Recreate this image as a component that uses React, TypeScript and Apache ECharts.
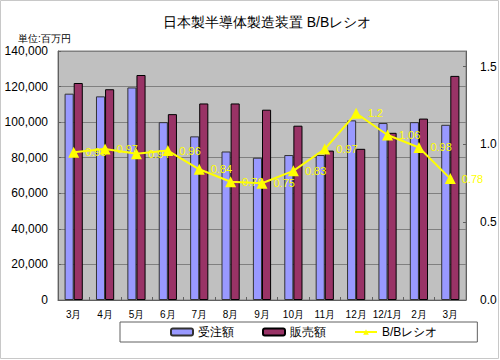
import React, { useEffect, useRef } from "react";
import * as echarts from "echarts";

const categories = ["3月", "4月", "5月", "6月", "7月", "8月", "9月", "10月", "11月", "12月", "12/1月", "2月", "3月"];
const orders = [116000, 114500, 119500, 100000, 92000, 83500, 80000, 81500, 81500, 101000, 99500, 100000, 98500];
const sales = [122000, 118500, 126500, 104500, 110500, 110500, 107000, 98000, 84000, 85000, 94000, 102000, 126000];
const ratio = [0.95, 0.97, 0.94, 0.96, 0.84, 0.76, 0.75, 0.83, 0.97, 1.2, 1.06, 0.98, 0.78];
const leftTicks = { min: 0, max: 140000, interval: 20000 };
const rightTicks = { min: 0, max: 1.6, interval: 0.5 };

const FONT = "'Liberation Sans', Arial, sans-serif";

export default function App() {
  const ref = useRef<HTMLDivElement>(null);
  useEffect(() => {
    const chart = echarts.init(ref.current!, null, { renderer: "svg" });
    chart.setOption({
      animation: false,
      backgroundColor: "#ffffff",
      textStyle: { fontFamily: FONT },
      title: {
        text: "日本製半導体製造装置 B/Bレシオ",
        left: 262,
        textAlign: "center",
        top: 10,
        textStyle: { fontSize: 14, fontWeight: "normal", color: "#000", fontFamily: FONT },
      },
      graphic: [
        {
          type: "rect",
          shape: { x: 0.5, y: 0.5, width: 498, height: 358 },
          style: { fill: "none", stroke: "#c8c8c8", lineWidth: 1 },
          silent: true,
          z: -1,
        },
        {
          type: "text",
          x: 18,
          y: 33,
          style: { text: "単位:百万円", fontSize: 10, fill: "#000", fontFamily: FONT },
        },
      ],
      grid: {
        left: 58,
        right: 34,
        top: 51,
        bottom: 60,
        show: true,
        backgroundColor: "#c0c0c0",
        borderColor: "#808080",
        borderWidth: 1,
      },
      legend: {
        bottom: 18,
        left: 120,
        itemWidth: 22,
        itemHeight: 7,
        itemGap: 28,
        padding: [4, 40, 4, 50],
        borderColor: "#606060",
        borderWidth: 1,
        textStyle: { fontSize: 12, color: "#000", fontFamily: FONT },
        data: ["受注額", "販売額", "B/Bレシオ"],
      },
      xAxis: {
        type: "category",
        data: categories,
        axisLine: { lineStyle: { color: "#606060" } },
        axisTick: { show: true, inside: true, length: 3, lineStyle: { color: "#606060" } },
        axisLabel: { fontSize: 10, color: "#000", margin: 9, interval: 0 },
      },
      yAxis: [
        {
          type: "value",
          min: leftTicks.min,
          max: leftTicks.max,
          interval: leftTicks.interval,
          axisLine: { show: true, lineStyle: { color: "#606060" } },
          axisTick: { show: true, inside: true, length: 3, lineStyle: { color: "#606060" } },
          axisLabel: {
            fontSize: 12,
            color: "#000",
            margin: 10,
            formatter: (v: number) => v.toLocaleString("en-US"),
          },
          splitLine: { lineStyle: { color: "#808080", width: 1 } },
        },
        {
          type: "value",
          min: rightTicks.min,
          max: rightTicks.max,
          interval: rightTicks.interval,
          position: "right",
          axisLine: { show: true, lineStyle: { color: "#606060" } },
          axisTick: { show: true, inside: true, length: 3, lineStyle: { color: "#606060" } },
          axisLabel: {
            fontSize: 12,
            color: "#000",
            margin: 14,
            showMaxLabel: false,
            formatter: (v: number) => v.toFixed(1),
          },
          splitLine: { show: false },
        },
      ],
      series: [
        {
          name: "受注額",
          type: "bar",
          data: orders,
          barGap: "0%",
          barCategoryGap: "42%",
          itemStyle: { color: "#9999ff", borderColor: "#333333", borderWidth: 1 },
        },
        {
          name: "販売額",
          type: "bar",
          data: sales,
          itemStyle: { color: "#993366", borderColor: "#000000", borderWidth: 1 },
        },
        {
          name: "B/Bレシオ",
          type: "line",
          yAxisIndex: 1,
          data: ratio,
          symbol: "triangle",
          symbolSize: 11,
          lineStyle: { color: "#ffff00", width: 2 },
          itemStyle: { color: "#ffff00" },
          label: {
            show: true,
            position: "right",
            distance: 6,
            color: "#ffff00",
            fontSize: 11,
            formatter: (p: any) => String(p.value),
          },
          z: 5,
        },
      ],
    });
    return () => chart.dispose();
  }, []);
  return <div ref={ref} style={{ position: "fixed", left: 0, top: 0, width: 500, height: 360 }} />;
}
